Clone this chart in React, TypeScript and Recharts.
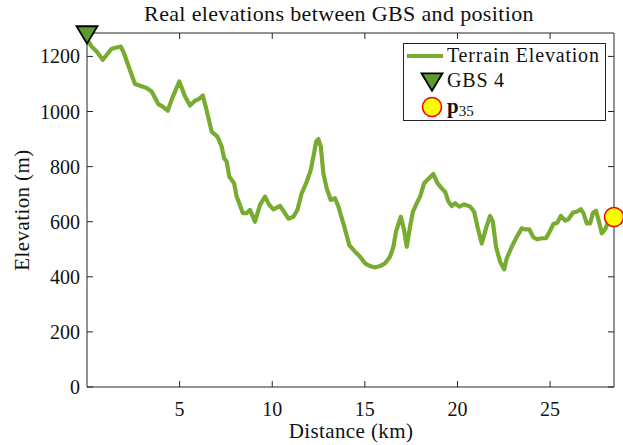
import { ComposedChart, Line, Scatter, XAxis, YAxis } from "recharts";

// terrain profile
const DIST_KM = [
  0, 0.25, 0.52, 0.85, 1.33, 1.82, 1.96, 2.59, 3.22, 3.49,
  3.85, 4.09, 4.36, 4.57, 4.98, 5.29, 5.56, 5.83, 6.06, 6.25,
  6.43, 6.73, 7.04, 7.27, 7.4, 7.54, 7.68, 7.94, 8.08, 8.22,
  8.41, 8.62, 8.8, 9.07, 9.34, 9.61, 9.84, 10.06, 10.42, 10.64,
  10.87, 11.14, 11.36, 11.59, 11.86, 12.08, 12.26, 12.37, 12.49, 12.62,
  12.76, 12.94, 13.16, 13.39, 13.57, 13.84, 14.16, 14.47, 14.74, 15.01,
  15.28, 15.55, 15.82, 16.09, 16.36, 16.54, 16.68, 16.94, 17.12, 17.26,
  17.44, 17.59, 17.8, 17.98, 18.2, 18.38, 18.7, 18.92, 19.15, 19.33,
  19.51, 19.69, 19.87, 20.1, 20.36, 20.68, 20.9, 21.08, 21.31, 21.54,
  21.76, 21.91, 22.08, 22.3, 22.52, 22.66, 22.93, 23.2, 23.47, 23.65,
  23.88, 24.1, 24.32, 24.55, 24.78, 25.0, 25.18, 25.39, 25.58, 25.81,
  25.99, 26.23, 26.44, 26.66, 26.8, 26.98, 27.16, 27.31, 27.48, 27.66,
  27.79, 27.97, 28.2, 28.45,
];
const ELEV_M = [
  1262, 1236, 1218, 1188, 1228, 1236, 1218, 1100, 1085, 1073,
  1027, 1018, 1003, 1043, 1109, 1055, 1022, 1039, 1046, 1058,
  1012, 927, 909, 873, 831, 818, 764, 740, 691, 667,
  631, 631, 643, 600, 661, 691, 661, 645, 657, 636,
  611, 618, 643, 703, 745, 788, 849, 891, 900, 873,
  776, 721, 679, 685, 655, 594, 515, 491, 473, 449,
  439, 434, 439, 449, 473, 509, 564, 618, 570, 509,
  582, 636, 667, 691, 740, 752, 773, 740, 721, 709,
  673, 657, 667, 655, 663, 655, 636, 582, 521, 576,
  621, 600, 509, 455, 427, 467, 509, 545, 576, 572,
  572, 543, 536, 540, 540, 567, 592, 596, 621, 604,
  609, 633, 636, 645, 631, 594, 594, 631, 640, 594,
  558, 572, 609, 617,
];
const GBS_KM = [0];
const GBS_ELEV = [1278];
const P35_KM = [28.45];
const P35_ELEV = [617];

const X_TICKS = [5, 10, 15, 20, 25];
const Y_TICKS = [0, 200, 400, 600, 800, 1000, 1200];
const X_MAX = 28.45;
const Y_MAX = 1285;

const terrain = DIST_KM.map((d, i) => ({ d, elev: ELEV_M[i] }));
const gbs = GBS_KM.map((d, i) => ({ d, elev: GBS_ELEV[i] }));
const p35 = P35_KM.map((d, i) => ({ d, elev: P35_ELEV[i] }));

const LINE_GREEN = "#77ac30";
const TRI_GREEN = "#5e9a2c";
const AXIS = "#262626";
const INK = "#111";
const FONT = "Liberation Serif";

const noTick = () => <g />;

function XTick(props: any) {
  const { x, y, payload } = props;
  return (
    <text x={x} y={y} dy={13} textAnchor="middle" fontFamily={FONT} fontSize={20} fill={INK}>
      {payload.value}
    </text>
  );
}

function YTick(props: any) {
  const { x, y, payload } = props;
  return (
    <text x={x} y={y} dy={7} textAnchor="end" fontFamily={FONT} fontSize={20} fill={INK}>
      {payload.value}
    </text>
  );
}

function Triangle(props: any) {
  const { cx, cy } = props;
  if (cx == null || cy == null) return <g />;
  return (
    <polygon
      points={`${cx - 10.5},${cy - 8.7} ${cx + 10.5},${cy - 8.7} ${cx},${cy + 8.7}`}
      fill={TRI_GREEN}
      stroke="#000"
      strokeWidth={1.8}
    />
  );
}

function Dot(props: any) {
  const { cx, cy } = props;
  if (cx == null || cy == null) return <g />;
  return <circle cx={cx} cy={cy} r={9.5} fill="#ffff00" stroke="#ff0000" strokeWidth={1.6} />;
}

export default function App() {
  return (
    <div style={{ position: "absolute", left: 0, top: 0, width: 623, height: 445, background: "#fff", fontFamily: FONT }}>
      <ComposedChart width={623} height={445} margin={{ top: 32, right: 8, bottom: 0, left: 0 }}>
        <XAxis
          dataKey="d"
          type="number"
          domain={[0, X_MAX]}
          ticks={X_TICKS}
          height={58}
          stroke={AXIS}
          tickSize={-6}
          tickMargin={22}
          tick={XTick}
        />
        <XAxis
          xAxisId="top"
          dataKey="d"
          orientation="top"
          type="number"
          domain={[0, X_MAX]}
          ticks={X_TICKS}
          height={1}
          stroke={AXIS}
          tickSize={-6}
          tick={noTick}
        />
        <YAxis
          type="number"
          domain={[0, Y_MAX]}
          ticks={Y_TICKS}
          width={87}
          stroke={AXIS}
          tickSize={-6}
          tickMargin={13}
          tick={YTick}
        />
        <YAxis
          yAxisId="right"
          orientation="right"
          type="number"
          domain={[0, Y_MAX]}
          ticks={Y_TICKS}
          width={1}
          stroke={AXIS}
          tickSize={-6}
          tick={noTick}
        />
        {/* invisible copy of the profile so the frame axes get a domain */}
        <Line
          data={terrain}
          dataKey="elev"
          xAxisId="top"
          yAxisId="right"
          stroke="none"
          dot={false}
          activeDot={false}
          isAnimationActive={false}
        />
        <Line
          data={terrain}
          dataKey="elev"
          type="linear"
          stroke={LINE_GREEN}
          strokeWidth={4.2}
          strokeLinejoin="round"
          dot={false}
          activeDot={false}
          isAnimationActive={false}
        />
        <Scatter data={gbs} dataKey="elev" shape={Triangle} isAnimationActive={false} />
        <Scatter data={p35} dataKey="elev" shape={Dot} isAnimationActive={false} />
      </ComposedChart>

      <svg
        width={623}
        height={445}
        style={{ position: "absolute", left: 0, top: 0, pointerEvents: "none" }}
      >
        <text x={339} y={21} textAnchor="middle" fontFamily={FONT} fontSize={22} letterSpacing={0.35} fill={INK}>
          Real elevations between GBS and position
        </text>
        <text x={351} y={438} textAnchor="middle" fontFamily={FONT} fontSize={21} letterSpacing={0.4} fill={INK}>
          Distance (km)
        </text>
        <text
          x={22}
          y={210}
          dy={7}
          transform="rotate(-90, 22, 210)"
          textAnchor="middle"
          fontFamily={FONT}
          fontSize={21}
          letterSpacing={0.4}
          fill={INK}
        >
          Elevation (m)
        </text>

        <g transform="translate(403,43)">
          <rect x={0.5} y={0.5} width={202} height={77} fill="#fff" stroke={AXIS} strokeWidth={1} />
          <line x1={4} x2={40} y1={13} y2={13} stroke={LINE_GREEN} strokeWidth={4} />
          <text x={44} y={18.7} fontFamily={FONT} fontSize={20} letterSpacing={0.8} fill={INK}>
            Terrain Elevation
          </text>
          <Triangle cx={29} cy={39} />
          <text x={44} y={44.3} fontFamily={FONT} fontSize={20} letterSpacing={0.8} fill={INK}>
            GBS 4
          </text>
          <Dot cx={29} cy={64} />
          <text x={44} y={69.5} fontFamily={FONT} fill={INK}>
            <tspan fontSize={21} fontWeight="bold">p</tspan>
            <tspan fontSize={15} dy={3.5}>35</tspan>
          </text>
        </g>
      </svg>
    </div>
  );
}
